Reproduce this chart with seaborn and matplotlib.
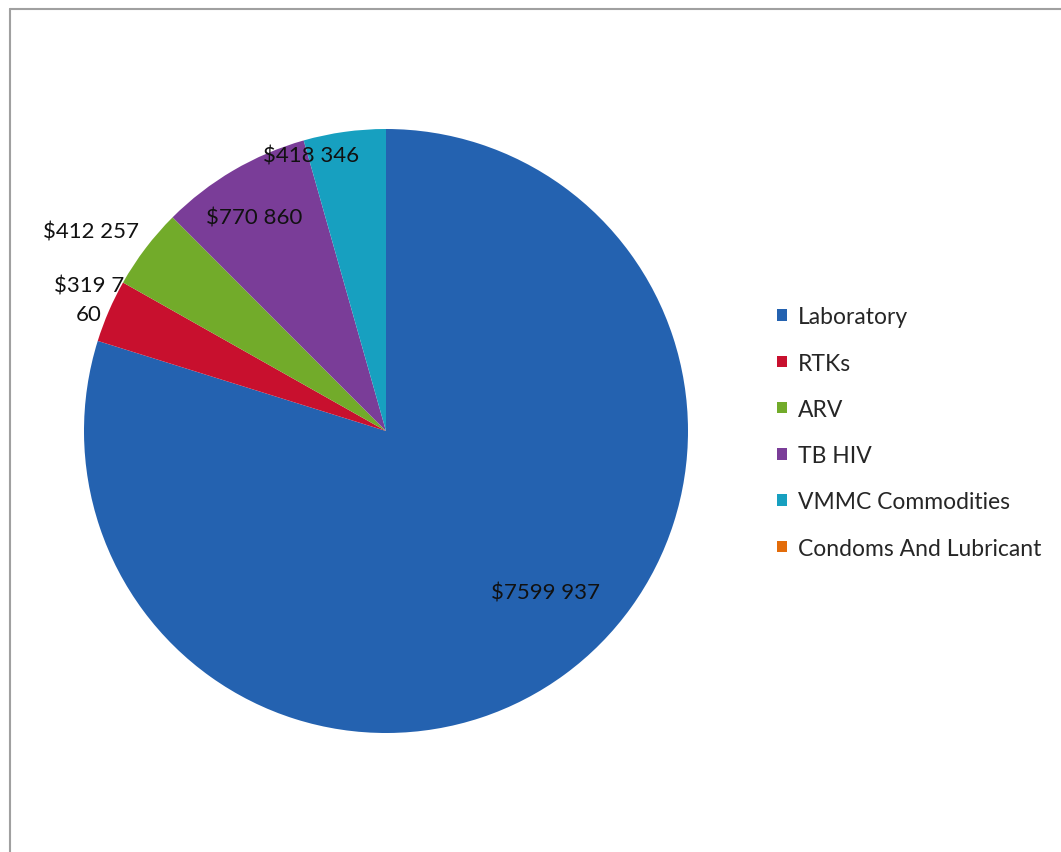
import matplotlib
matplotlib.use("Agg")
import matplotlib.pyplot as plt
import seaborn as sns
import numpy as np
from matplotlib.patches import Patch
from matplotlib.lines import Line2D

sns.set_theme(style="white")
plt.rcParams['font.family'] = ['Lato', 'DejaVu Sans']

categories = ["Laboratory", "RTKs", "ARV", "TB HIV", "VMMC Commodities", "Condoms And Lubricant"]
values = [7599937, 319760, 412257, 770860, 418346, 0]
labels = ["$7599 937", "$319 7\n60", "$412 257", "$770 860", "$418 346", ""]
colors = ["#2462b0", "#c8102e", "#72ab2a", "#7a3d98", "#17a0c0", "#e36c0a"]

# label placement (angle in degrees, radius fraction)
label_pos = [(-45.4, 0.75), (156.2, 1.075), (145.9, 1.18), (121.7, 0.83), (105.2, 0.945), None]

W, H = 1061, 853
fig = plt.figure(figsize=(W / 100, H / 100), dpi=100)
fig.patch.set_facecolor("white")

cx, cy, R = 386, 432, 302
ax = fig.add_axes([(cx - R) / W, (H - cy - R) / H, 2 * R / W, 2 * R / H])
wedges, _ = ax.pie(values, colors=colors, startangle=90, counterclock=False,
                   radius=1.0, wedgeprops=dict(linewidth=0))
ax.set_xlim(-1, 1)
ax.set_ylim(-1, 1)
ax.set_aspect("equal")
ax.axis("off")

for lab, pos in zip(labels, label_pos):
    if pos is None:
        continue
    a, r = pos
    x, y = r * np.cos(np.radians(a)), r * np.sin(np.radians(a))
    ax.text(x, y, lab, ha="center", va="center", multialignment="center", fontsize=16,
            color="#111111", clip_on=False, linespacing=1.5)

handles = [Patch(facecolor=c, edgecolor="none") for c in colors]
fig.legend(handles, categories, loc="upper left",
           bbox_to_anchor=(766 / W, 1 - 296 / H), frameon=False,
           fontsize=16.5, handlelength=0.4, handleheight=0.4, handletextpad=0.5,
           labelspacing=1.1, borderpad=0)

# outer chart frame
fig.add_artist(Line2D([9.5 / W, 1.0], [1 - 9.5 / H, 1 - 9.5 / H], color="#a0a0a0", lw=1.5,
                      transform=fig.transFigure))
fig.add_artist(Line2D([9.5 / W, 9.5 / W], [1 - 9.5 / H, 0], color="#a0a0a0", lw=1.5,
                      transform=fig.transFigure))

fig.savefig("out.png", dpi=100)
